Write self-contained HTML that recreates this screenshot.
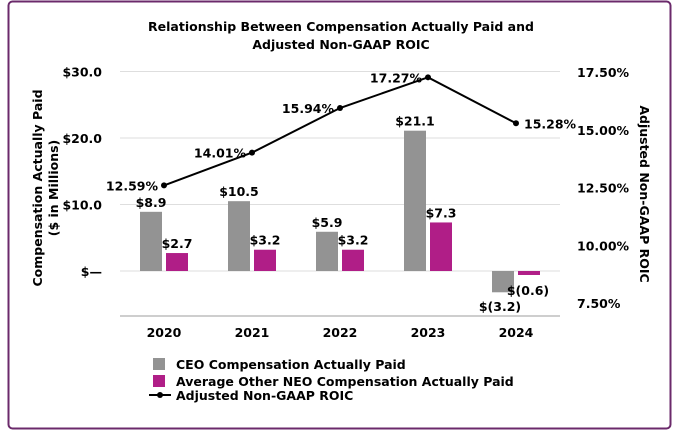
<!DOCTYPE html>
<html><head><meta charset="utf-8"><style>
body{margin:0;background:#fff;}
svg{display:block;font-family:"DejaVu Sans","Liberation Sans",sans-serif;font-weight:bold;}
</style></head><body>
<svg id="chart" width="682" height="433" viewBox="0 0 682 433">
<rect x="8.5" y="1.5" width="662" height="427" rx="4" fill="#fff" stroke="#6b2a6b" stroke-width="2"/>
<text x="341" y="31" text-anchor="middle" font-size="12.5">Relationship Between Compensation Actually Paid and</text>
<text x="341" y="49" text-anchor="middle" font-size="12.5">Adjusted Non-GAAP ROIC</text>
<g id="grid"></g><g id="bars"></g><g id="line"></g><g id="axes"></g>
<text transform="translate(42,188) rotate(-90)" text-anchor="middle" font-size="12.5">Compensation Actually Paid</text>
<text transform="translate(58,188) rotate(-90)" text-anchor="middle" font-size="12.5">($ in Millions)</text>
<text transform="translate(640,194) rotate(90)" text-anchor="middle" font-size="12.5">Adjusted Non-GAAP ROIC</text>
<g font-size="12.5">
<rect x="153" y="358" width="12" height="12" fill="#939393"/>
<text x="176" y="369">CEO Compensation Actually Paid</text>
<rect x="153" y="375" width="12" height="12" fill="#b01e87"/>
<text x="176" y="386">Average Other NEO Compensation Actually Paid</text>
<line x1="149" y1="395" x2="171" y2="395" stroke="#000" stroke-width="2"/>
<circle cx="160" cy="395" r="3" fill="#000"/>
<text x="176" y="400">Adjusted Non-GAAP ROIC</text>
</g>
</svg>
<script>
const categories=["2020","2021","2022","2023","2024"];
const ceoValues=[8.9,10.5,5.9,21.1,-3.2];
const neoValues=[2.7,3.2,3.2,7.3,-0.6];
const roicValues=[12.59,14.01,15.94,17.27,15.28];
const leftTicks=[0,10,20,30];
const leftTickLabels=["$—","$10.0","$20.0","$30.0"];
const rightTicks=[7.5,10,12.5,15,17.5];
const ns="http://www.w3.org/2000/svg";
const yL=v=>271-v*6.65;
const yR=v=>72+(17.5-v)*23.1;
const xC=i=>164+i*88;
function mk(tag,attrs,parent,text){const e=document.createElementNS(ns,tag);for(const k in attrs)e.setAttribute(k,attrs[k]);if(text!==undefined)e.textContent=text;document.getElementById(parent).appendChild(e);return e;}
leftTicks.forEach((t,i)=>{
 const g=mk('line',{x1:120,x2:560,y1:yL(t),y2:yL(t),stroke:'#dedede','stroke-width':1},'grid');
 
 
 const l=mk('text',{x:102,y:yL(t)+5,'text-anchor':'end','font-size':12.5},'axes',leftTickLabels[i]);
 
 
});
rightTicks.forEach(t=>{
 const l=mk('text',{x:577,y:yR(t)+5,'font-size':12.5},'axes',t.toFixed(2)+'%');
 
 
});
const ax=mk('line',{x1:120,x2:560,y1:316,y2:316,stroke:'#bdbdbd','stroke-width':1.5},'axes');


const fmt=v=>v<0?'$('+Math.abs(v).toFixed(1)+')':'$'+v.toFixed(1);
categories.forEach((c,i)=>{
 const x=xC(i);
 const xl=mk('text',{x:x,y:337,'text-anchor':'middle','font-size':12.5},'axes',c);
 
 
 [[ceoValues[i],x-24,'#939393','bar-ceo'],[neoValues[i],x+2,'#b01e87','bar-neo']].forEach(([v,bx,col,nm])=>{
  const top=Math.min(yL(v),yL(0)),h=Math.abs(yL(v)-yL(0));
  const r=mk('rect',{x:bx,y:top,width:22,height:h,fill:col},'bars');
  
  
  let ly=top-5, lx=bx+11;
  if(v<0&&nm==='bar-ceo'){ly=yL(0)+40;lx=bx+8;}
  if(v<0&&nm==='bar-neo'){ly=yL(0)+24;lx=bx+10;}
  const t=mk('text',{x:lx,y:ly,'text-anchor':'middle','font-size':12.5},'bars',fmt(v));
  
  
 });
});
const pts=roicValues.map((v,i)=>xC(i)+','+yR(v)).join(' ');
const pl=mk('polyline',{points:pts,fill:'none',stroke:'#000','stroke-width':2},'line');


roicValues.forEach((v,i)=>{
 const p=mk('circle',{cx:xC(i),cy:yR(v),r:3,fill:'#000'},'line');
 
 
 const last=i===roicValues.length-1;
 const t=mk('text',{x:last?xC(i)+8:xC(i)-6,y:yR(v)+5,'text-anchor':last?'start':'end','font-size':12.5},'line',v.toFixed(2)+'%');
 
 
});
</script>
</body></html>
